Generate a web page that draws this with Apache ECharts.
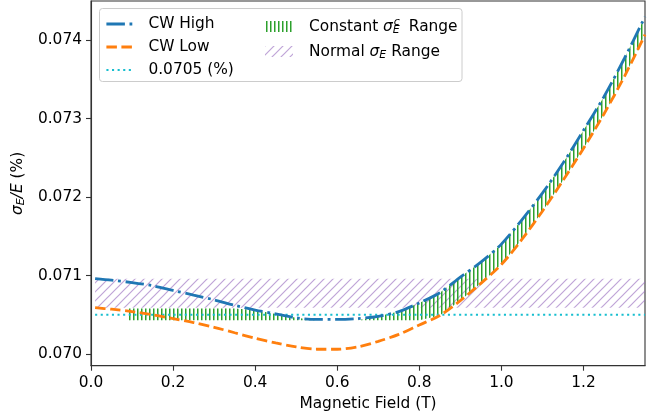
<!DOCTYPE html>
<html>
<head>
<meta charset="utf-8">
<script src="https://cdn.jsdelivr.net/npm/echarts@6/dist/echarts.min.js"></script>
<style>
html,body{margin:0;padding:0;background:#fff;}
#chart{width:658px;height:419px;}
</style>
</head>
<body>
<div id="chart"></div>
<script>
// ---------------- DATA ----------------
const xs = [0.01,0.05,0.10,0.15,0.20,0.25,0.30,0.35,0.40,0.45,0.50,0.55,0.60,0.65,0.70,0.75,0.80,0.85,0.90,0.95,1.00,1.05,1.10,1.15,1.20,1.25,1.30,1.35];
const cwHigh = [0.07096,0.07094,0.07091,0.07087,0.07081,0.07075,0.07069,0.07062,0.07056,0.07051,0.07046,0.07044,0.07044,0.07045,0.07048,0.07054,0.07065,0.07078,0.07098,0.07117,0.07140,0.07171,0.07205,0.07243,0.07285,0.07328,0.07377,0.07430];
const cwLow  = [0.07059,0.07057,0.07054,0.07050,0.07045,0.07040,0.07034,0.07027,0.07020,0.07014,0.07009,0.07006,0.07006,0.07009,0.07016,0.07025,0.07037,0.07049,0.07068,0.07090,0.07114,0.07146,0.07182,0.07221,0.07262,0.07306,0.07354,0.07407];
const refLevel = 0.0705;
const refX = [0.01, 1.35];
const normalX = [0.01, 1.35];
const normalLow = 0.07059;
const normalHigh = 0.07096;
const constX    = [0.09,0.10,0.15,0.20,0.25,0.30,0.35,0.40,0.45,0.50,0.55,0.60,0.65,0.70,0.75,0.80,0.85,0.90,0.95,1.00,1.05,1.10,1.15,1.20,1.25,1.30,1.35];
const constLow  = [0.07043,0.07043,0.07043,0.07043,0.07043,0.07043,0.07043,0.07043,0.07043,0.07043,0.07043,0.07043,0.07043,0.07043,0.07043,0.07043,0.07049,0.07068,0.07090,0.07114,0.07146,0.07182,0.07221,0.07262,0.07306,0.07354,0.07407];
const constHigh = [0.07058,0.07058,0.07058,0.07058,0.07058,0.07058,0.07058,0.07056,0.07051,0.07046,0.07043,0.07043,0.07043,0.07048,0.07054,0.07065,0.07078,0.07098,0.07117,0.07140,0.07171,0.07205,0.07243,0.07285,0.07328,0.07377,0.07430];
const xTicks = [0.0,0.2,0.4,0.6,0.8,1.0,1.2];
const yTicks = [0.070,0.071,0.072,0.073,0.074];
const names = ['CW High','CW Low','0.0705 (%)','Constant σE^c Range','Normal σE Range'];
// ---------------------------------------

const FONT = 'DejaVu Sans';
const FS = 15.4;
const SFS = 11;

function diagPattern(color, s) {
  const c = document.createElement('canvas');
  c.width = s; c.height = s;
  const g = c.getContext('2d');
  g.strokeStyle = color; g.lineWidth = 1.2;
  g.beginPath();
  g.moveTo(-1, s + 1); g.lineTo(s + 1, -1);
  g.moveTo(-1, 1); g.lineTo(1, -1);
  g.moveTo(s - 1, s + 1); g.lineTo(s + 1, s - 1);
  g.stroke();
  return {image: c, repeat: 'repeat'};
}
function vertPattern(color, w, lw) {
  const c = document.createElement('canvas');
  c.width = w; c.height = 8;
  const g = c.getContext('2d');
  g.fillStyle = color;
  g.fillRect(1, 0, lw, 8);
  return {image: c, repeat: 'repeat'};
}
const purpleHatch = diagPattern('rgba(148,103,189,0.6)', 9);
const greenHatch = vertPattern('#2ca02c', 4, 1.5);

const pairs = (x, y) => x.map((v, i) => [v, y[i]]);

function bandRenderer(bx, lo, hi, fill) {
  return function (params, api) {
    if (params.dataIndex !== 0) return null;
    const pts = [];
    for (let i = 0; i < bx.length; i++) pts.push(api.coord([bx[i], hi[i]]));
    for (let i = bx.length - 1; i >= 0; i--) pts.push(api.coord([bx[i], lo[i]]));
    return {
      type: 'polygon',
      shape: {points: pts},
      style: {fill: fill, stroke: null},
      silent: true
    };
  };
}

const normalLoArr = normalX.map(() => normalLow);
const normalHiArr = normalX.map(() => normalHigh);

const rich = {
  c1: {fontSize: FS, fontFamily: FONT, color: '#000', padding: [0, 0, 0, 9]},
  t0: {fontSize: FS, fontFamily: FONT, color: '#000', padding: [0, 0, 0, 11]},
  t: {fontSize: FS, fontFamily: FONT, color: '#000'},
  tr: {fontSize: FS, fontFamily: FONT, color: '#000', padding: [0, 0, 0, 4]},
  si: {fontSize: FS, fontFamily: FONT, fontStyle: 'italic', color: '#000'},
  sb: {fontSize: SFS, fontFamily: FONT, fontStyle: 'italic', color: '#000', padding: [8, 0, 0, 0]},
  sb0: {fontSize: SFS, fontFamily: FONT, fontStyle: 'italic', color: '#000', padding: [8, 0, 0, 0], width: 1},
  sp: {fontSize: SFS, fontFamily: FONT, fontStyle: 'italic', color: '#000', padding: [0, 0, 9, 0]}
};

const legendCommon = {
  orient: 'vertical', padding: 0, itemWidth: 28, itemHeight: 11, itemGap: 8,
  backgroundColor: 'transparent', borderWidth: 0, z: 8, selectedMode: false,
  textStyle: {fontSize: FS, fontFamily: FONT, color: '#000', rich: rich}
};

const chart = echarts.init(document.getElementById('chart'), null, {renderer: 'canvas'});

const option = {
  animation: false,
  backgroundColor: '#fff',
  grid: {left: 91, right: 13, top: 1, bottom: 53.3, show: true, borderColor: '#333', borderWidth: 1.1, outerBoundsMode: 'none'},
  graphic: [{
    type: 'rect', z: 7, silent: true,
    shape: {x: 99.5, y: 8.5, width: 362.5, height: 73, r: 3},
    style: {fill: 'rgba(255,255,255,0.8)', stroke: '#cccccc', lineWidth: 1}
  }],
  xAxis: {
    type: 'value', min: 0, max: 1.35,
    name: 'Magnetic Field (T)', nameLocation: 'middle', nameGap: 31,
    nameTextStyle: {fontSize: FS, fontFamily: FONT, color: '#000'},
    axisLine: {show: true, onZero: false, lineStyle: {color: '#333', width: 1.1}},
    axisTick: {show: true, length: 5, lineStyle: {color: '#333', width: 1.1}, customValues: xTicks},
    axisLabel: {fontSize: FS, fontFamily: FONT, color: '#000', margin: 10, customValues: xTicks, formatter: v => v.toFixed(1)},
    splitLine: {show: false}
  },
  yAxis: {
    type: 'value', min: 0.06985, max: 0.0745,
    name: '{si|σ}{sb|E}{si|/E}{t| (%)}', nameLocation: 'middle', nameGap: 63, nameRotate: 90,
    nameTextStyle: {fontSize: FS, fontFamily: FONT, color: '#000', rich: rich},
    axisLine: {show: true, onZero: false, lineStyle: {color: '#333', width: 1.1}},
    axisTick: {show: true, length: 5, lineStyle: {color: '#333', width: 1.1}, customValues: yTicks},
    axisLabel: {fontSize: FS, fontFamily: FONT, color: '#000', margin: 9, customValues: yTicks, formatter: v => v.toFixed(3)},
    splitLine: {show: false}
  },
  legend: [
    Object.assign({}, legendCommon, {
      left: 105, top: 16.5,
      formatter: name => '{c1|' + name + '}',
      data: [
        {name: names[0], itemStyle: {opacity: 0}, lineStyle: {width: 2.8}},
        {name: names[1], itemStyle: {opacity: 0}, lineStyle: {width: 2.8}},
        {name: names[2], itemStyle: {opacity: 0}, lineStyle: {width: 2.1}}
      ]
    }),
    Object.assign({}, legendCommon, {
      left: 265, top: 16.5,
      formatter: function (name) {
        if (name === names[3]) return '{t0|Constant }{si|σ}{sb0|E}{sp|c}{tr| Range}';
        return '{t0|Normal }{si|σ}{sb|E}{t| Range}';
      },
      data: [
        {name: names[3], icon: 'rect', itemStyle: {color: greenHatch, borderWidth: 0}},
        {name: names[4], icon: 'rect', itemStyle: {color: purpleHatch, borderWidth: 0}}
      ]
    })
  ],
  series: [
    {
      name: names[4], type: 'custom', z: 1, silent: true, clip: true,
      itemStyle: {color: purpleHatch},
      renderItem: bandRenderer(normalX, normalLoArr, normalHiArr, purpleHatch),
      data: normalX.map((x, i) => [x, normalLoArr[i], normalHiArr[i]])
    },
    {
      name: names[3], type: 'custom', z: 2, silent: true, clip: true,
      itemStyle: {color: greenHatch},
      renderItem: bandRenderer(constX, constLow, constHigh, greenHatch),
      data: constX.map((x, i) => [x, constLow[i], constHigh[i]])
    },
    {
      name: names[2], type: 'line', symbol: 'none', z: 3,
      lineStyle: {color: '#17becf', width: 2.1, type: [2.1, 3.5]},
      itemStyle: {color: '#17becf'},
      data: refX.map(x => [x, refLevel])
    },
    {
      name: names[1], type: 'line', symbol: 'none', smooth: 0.3, z: 4,
      lineStyle: {color: '#ff7f0e', width: 2.8, type: [10.5, 4.5]},
      itemStyle: {color: '#ff7f0e'},
      data: pairs(xs, cwLow)
    },
    {
      name: names[0], type: 'line', symbol: 'none', smooth: 0.3, z: 5,
      lineStyle: {color: '#1f77b4', width: 2.8, type: [18.5, 4.6, 2.8, 4.6]},
      itemStyle: {color: '#1f77b4'},
      data: pairs(xs, cwHigh)
    }
  ]
};
chart.setOption(option);
</script>
</body>
</html>
